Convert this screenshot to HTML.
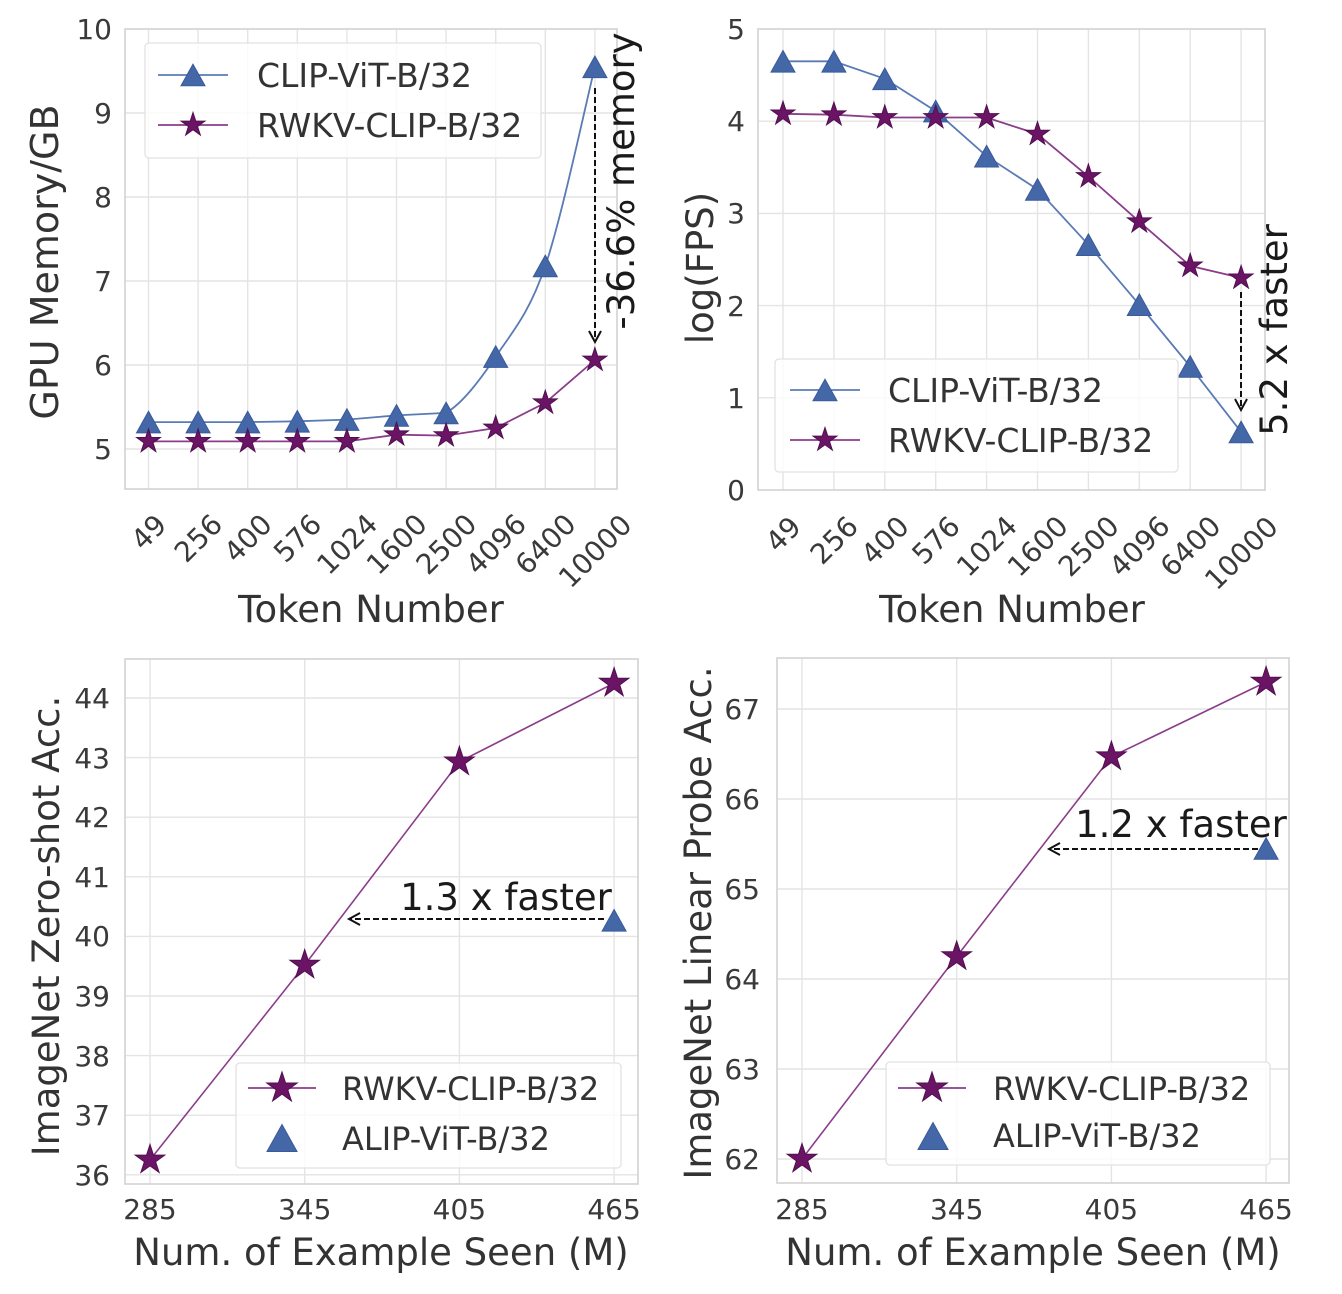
<!DOCTYPE html>
<html><head><meta charset="utf-8"><style>
html,body{margin:0;padding:0;background:#fff;}
svg{display:block;font-family:"DejaVu Sans","Liberation Sans",sans-serif;}
.g{stroke:#e4e4e4;stroke-width:1.4;fill:none}
.f{stroke:#d2d2d2;stroke-width:1.6;fill:none}
.t{font-size:28px;fill:#3a3a3a}
.lab{font-size:37px;fill:#333}
.leg{font-size:33px;fill:#333}
.legb{font-size:32px;fill:#333}
.ann{font-size:37px;fill:#1a1a1a}
.bl{stroke:#5a7bb5;stroke-width:1.8;fill:none}
.pl{stroke:#8b3d8b;stroke-width:1.8;fill:none}
.s{fill:#6b1466;stroke:#50104e}
.tri{fill:#4467a8;stroke:#3a5a9a}
.ar{stroke:#111;stroke-width:2;fill:none;stroke-dasharray:6 3}
.ah{stroke:#111;stroke-width:2;fill:none}
.lg{fill:#fff;fill-opacity:0.82;stroke:#e2e2e2;stroke-width:1.3}
</style></head><body>
<svg width="1342" height="1294" viewBox="0 0 1342 1294" xmlns="http://www.w3.org/2000/svg">
<defs>
<path id="st" vector-effect="non-scaling-stroke" stroke-width="1" d="M0,-1 L0.2245,-0.309 L0.9511,-0.309 L0.3633,0.118 L0.5878,0.809 L0,0.382 L-0.5878,0.809 L-0.3633,0.118 L-0.9511,-0.309 L-0.2245,-0.309 Z"/>
<path id="tr" vector-effect="non-scaling-stroke" stroke-width="1" d="M0,-0.9 L1,0.9 L-1,0.9 Z"/>
</defs>
<rect width="1342" height="1294" fill="#fff"/>

<!-- ============ TOP LEFT ============ -->
<g>
<path class="g" d="M125,113H617M125,197H617M125,281H617M125,365H617M125,449H617"/>
<path class="g" d="M148.5,29V489M198.1,29V489M247.7,29V489M297.3,29V489M346.9,29V489M396.5,29V489M446.1,29V489M495.7,29V489M545.3,29V489M594.9,29V489"/>
<rect class="f" x="125" y="29" width="492" height="460"/>
<g class="t" text-anchor="end">
<text x="112" y="39">10</text><text x="112" y="123">9</text><text x="112" y="207">8</text><text x="112" y="291">7</text><text x="112" y="375">6</text><text x="112" y="459">5</text>
</g>
<g class="t" text-anchor="middle">
<text transform="translate(148.5,532) rotate(-45)" y="10">49</text>
<text transform="translate(198.1,538) rotate(-45)" y="10">256</text>
<text transform="translate(247.7,538) rotate(-45)" y="10">400</text>
<text transform="translate(297.3,538) rotate(-45)" y="10">576</text>
<text transform="translate(346.9,544) rotate(-45)" y="10">1024</text>
<text transform="translate(396.5,544) rotate(-45)" y="10">1600</text>
<text transform="translate(446.1,544) rotate(-45)" y="10">2500</text>
<text transform="translate(495.7,544) rotate(-45)" y="10">4096</text>
<text transform="translate(545.3,544) rotate(-45)" y="10">6400</text>
<text transform="translate(594.9,551) rotate(-45)" y="10">10000</text>
</g>
<text class="lab" x="371" y="622" text-anchor="middle">Token Number</text>
<text class="lab" style="font-size:38px" transform="translate(58,262) rotate(-90)" text-anchor="middle">GPU Memory/GB</text>

<path class="bl" d="M148.5,422.1 L198.1,422.1 L247.7,422.1 L297.3,421.3 L346.9,419.6 L396.5,415.4 L446.1,412.9 C462.6,403.1 479.2,381.1 495.7,356.6 C512.2,332.1 528.8,314.2 545.3,265.9 C561.8,217.6 586.6,100 594.9,66.8"/>
<path class="pl" d="M148.5,441.4 L198.1,441.4 L247.7,441.4 L297.3,441.4 L346.9,441.4 L396.5,434.7 L446.1,435.6 L495.7,428 L545.3,402.8 L594.9,360"/>
<g class="tri">
<use href="#tr" transform="translate(148.5,422.1) scale(12)"/><use href="#tr" transform="translate(198.1,422.1) scale(12)"/><use href="#tr" transform="translate(247.7,422.1) scale(12)"/><use href="#tr" transform="translate(297.3,421.3) scale(12)"/><use href="#tr" transform="translate(346.9,419.6) scale(12)"/><use href="#tr" transform="translate(396.5,415.4) scale(12)"/><use href="#tr" transform="translate(446.1,412.9) scale(12)"/><use href="#tr" transform="translate(495.7,356.6) scale(12)"/><use href="#tr" transform="translate(545.3,265.9) scale(12)"/><use href="#tr" transform="translate(594.9,66.8) scale(12)"/>
</g>
<g class="s">
<use href="#st" transform="translate(148.5,441.4) scale(12.5)"/><use href="#st" transform="translate(198.1,441.4) scale(12.5)"/><use href="#st" transform="translate(247.7,441.4) scale(12.5)"/><use href="#st" transform="translate(297.3,441.4) scale(12.5)"/><use href="#st" transform="translate(346.9,441.4) scale(12.5)"/><use href="#st" transform="translate(396.5,434.7) scale(12.5)"/><use href="#st" transform="translate(446.1,435.6) scale(12.5)"/><use href="#st" transform="translate(495.7,428) scale(12.5)"/><use href="#st" transform="translate(545.3,402.8) scale(12.5)"/><use href="#st" transform="translate(594.9,360) scale(12.5)"/>
</g>
<path class="ar" d="M595,88V340"/>
<path class="ah" d="M589,331L595,342L601,331"/>
<text class="ann" transform="translate(634,181) rotate(-90)" text-anchor="middle">-36.6% memory</text>

<rect class="lg" x="145" y="43" width="396" height="115" rx="4"/>
<path class="bl" d="M158,75H228"/>
<use class="tri" href="#tr" transform="translate(193,75) scale(12)"/>
<text class="leg" x="257" y="87">CLIP-ViT-B/32</text>
<path class="pl" d="M158,125H228"/>
<use class="s" href="#st" transform="translate(193,125) scale(12.5)"/>
<text class="leg" x="257" y="137">RWKV-CLIP-B/32</text>
</g>

<!-- ============ TOP RIGHT ============ -->
<g>
<path class="g" d="M758,121.2H1265M758,213.4H1265M758,305.6H1265M758,397.8H1265"/>
<path class="g" d="M783,29V490M833.9,29V490M884.8,29V490M935.7,29V490M986.6,29V490M1037.5,29V490M1088.4,29V490M1139.3,29V490M1190.2,29V490M1241.1,29V490"/>
<rect class="f" x="758" y="29" width="507" height="461"/>
<g class="t" text-anchor="end">
<text x="745" y="39">5</text><text x="745" y="131">4</text><text x="745" y="223">3</text><text x="745" y="316">2</text><text x="745" y="408">1</text><text x="745" y="500">0</text>
</g>
<g class="t" text-anchor="middle">
<text transform="translate(783,534) rotate(-45)" y="10">49</text>
<text transform="translate(833.9,540) rotate(-45)" y="10">256</text>
<text transform="translate(884.8,540) rotate(-45)" y="10">400</text>
<text transform="translate(935.7,540) rotate(-45)" y="10">576</text>
<text transform="translate(986.6,546) rotate(-45)" y="10">1024</text>
<text transform="translate(1037.5,546) rotate(-45)" y="10">1600</text>
<text transform="translate(1088.4,546) rotate(-45)" y="10">2500</text>
<text transform="translate(1139.3,546) rotate(-45)" y="10">4096</text>
<text transform="translate(1190.2,546) rotate(-45)" y="10">6400</text>
<text transform="translate(1241.1,553) rotate(-45)" y="10">10000</text>
</g>
<text class="lab" x="1012" y="622" text-anchor="middle">Token Number</text>
<text class="lab" transform="translate(713,268) rotate(-90)" text-anchor="middle">log(FPS)</text>

<path class="bl" d="M783,61.3 L833.9,61.3 L884.8,78.8 L935.7,111.1 L986.6,156.2 L1037.5,189.4 L1088.4,244.7 L1139.3,304.7 L1190.2,366.5 L1241.1,431.9"/>
<path class="pl" d="M783,113.8 L833.9,114.7 L884.8,117.5 L935.7,117.5 L986.6,117.5 L1037.5,134.1 L1088.4,176.5 L1139.3,221.7 L1190.2,265.9 L1241.1,277.9"/>
<g class="tri">
<use href="#tr" transform="translate(783,61.3) scale(12)"/><use href="#tr" transform="translate(833.9,61.3) scale(12)"/><use href="#tr" transform="translate(884.8,78.8) scale(12)"/><use href="#tr" transform="translate(935.7,111.1) scale(12)"/><use href="#tr" transform="translate(986.6,156.2) scale(12)"/><use href="#tr" transform="translate(1037.5,189.4) scale(12)"/><use href="#tr" transform="translate(1088.4,244.7) scale(12)"/><use href="#tr" transform="translate(1139.3,304.7) scale(12)"/><use href="#tr" transform="translate(1190.2,366.5) scale(12)"/><use href="#tr" transform="translate(1241.1,431.9) scale(12)"/>
</g>
<g class="s">
<use href="#st" transform="translate(783,113.8) scale(12.5)"/><use href="#st" transform="translate(833.9,114.7) scale(12.5)"/><use href="#st" transform="translate(884.8,117.5) scale(12.5)"/><use href="#st" transform="translate(935.7,117.5) scale(12.5)"/><use href="#st" transform="translate(986.6,117.5) scale(12.5)"/><use href="#st" transform="translate(1037.5,134.1) scale(12.5)"/><use href="#st" transform="translate(1088.4,176.5) scale(12.5)"/><use href="#st" transform="translate(1139.3,221.7) scale(12.5)"/><use href="#st" transform="translate(1190.2,265.9) scale(12.5)"/><use href="#st" transform="translate(1241.1,277.9) scale(12.5)"/>
</g>
<path class="ar" d="M1241,292V408"/>
<path class="ah" d="M1235,399L1241,410L1247,399"/>
<text class="ann" transform="translate(1287,330) rotate(-90)" text-anchor="middle">5.2 x faster</text>

<rect class="lg" x="775" y="359" width="403" height="113" rx="4"/>
<path class="bl" d="M790,390H860"/>
<use class="tri" href="#tr" transform="translate(825,390) scale(12)"/>
<text class="leg" x="888" y="402">CLIP-ViT-B/32</text>
<path class="pl" d="M790,440H860"/>
<use class="s" href="#st" transform="translate(825,440) scale(12.5)"/>
<text class="leg" x="888" y="452">RWKV-CLIP-B/32</text>
</g>

<!-- ============ BOTTOM LEFT ============ -->
<g>
<path class="g" d="M125,698H638M125,757.6H638M125,817.2H638M125,876.8H638M125,936.4H638M125,996H638M125,1055.6H638M125,1115.2H638M125,1174.8H638"/>
<path class="g" d="M150,659V1184M304.7,659V1184M459.4,659V1184M614.1,659V1184"/>
<rect class="f" x="125" y="659" width="513" height="525"/>
<g class="t" text-anchor="end">
<text x="110" y="708">44</text><text x="110" y="768">43</text><text x="110" y="827">42</text><text x="110" y="887">41</text><text x="110" y="946">40</text><text x="110" y="1006">39</text><text x="110" y="1066">38</text><text x="110" y="1125">37</text><text x="110" y="1185">36</text>
</g>
<g class="t" text-anchor="middle">
<text x="150" y="1219">285</text><text x="304.7" y="1219">345</text><text x="459.4" y="1219">405</text><text x="614.1" y="1219">465</text>
</g>
<text class="lab" x="381" y="1265" text-anchor="middle">Num. of Example Seen (M)</text>
<text class="lab" transform="translate(59,926) rotate(-90)" text-anchor="middle">ImageNet Zero-shot Acc.</text>

<path class="pl" style="stroke-width:1.6" d="M150,1159.9 L304.7,965 L459.4,761.8 L614.1,683.1"/>
<g class="s">
<use href="#st" transform="translate(150,1159.9) scale(15.5)"/><use href="#st" transform="translate(304.7,965) scale(15.5)"/><use href="#st" transform="translate(459.4,761.8) scale(15.5)"/><use href="#st" transform="translate(614.1,683.1) scale(15.5)"/>
</g>
<use class="tri" href="#tr" transform="translate(614.1,920.3) scale(12)"/>
<path class="ar" d="M604,919H351"/>
<path class="ah" d="M360,913L349,919L360,925"/>
<text class="ann" x="506" y="910" text-anchor="middle">1.3 x faster</text>

<rect class="lg" x="236" y="1063" width="385" height="105" rx="4"/>
<path class="pl" d="M248,1088H316"/>
<use class="s" href="#st" transform="translate(282,1088) scale(16)"/>
<text class="legb" x="342" y="1100">RWKV-CLIP-B/32</text>
<use class="tri" href="#tr" transform="translate(282,1138) scale(15)"/>
<text class="legb" x="342" y="1150">ALIP-ViT-B/32</text>
</g>

<!-- ============ BOTTOM RIGHT ============ -->
<g>
<path class="g" d="M777,709H1289M777,799H1289M777,889H1289M777,979H1289M777,1069H1289M777,1159H1289"/>
<path class="g" d="M802,658V1183M956.7,658V1183M1111.4,658V1183M1266.1,658V1183"/>
<rect class="f" x="777" y="658" width="512" height="525"/>
<g class="t" text-anchor="end">
<text x="760" y="719">67</text><text x="760" y="809">66</text><text x="760" y="899">65</text><text x="760" y="989">64</text><text x="760" y="1079">63</text><text x="760" y="1169">62</text>
</g>
<g class="t" text-anchor="middle">
<text x="802" y="1219">285</text><text x="956.7" y="1219">345</text><text x="1111.4" y="1219">405</text><text x="1266.1" y="1219">465</text>
</g>
<text class="lab" x="1033" y="1265" text-anchor="middle">Num. of Example Seen (M)</text>
<text class="lab" transform="translate(711,923) rotate(-90)" text-anchor="middle">ImageNet Linear Probe Acc.</text>

<path class="pl" style="stroke-width:1.6" d="M802,1159 L956.7,956.5 L1111.4,756.7 L1266.1,682"/>
<g class="s">
<use href="#st" transform="translate(802,1159) scale(15.5)"/><use href="#st" transform="translate(956.7,956.5) scale(15.5)"/><use href="#st" transform="translate(1111.4,756.7) scale(15.5)"/><use href="#st" transform="translate(1266.1,682) scale(15.5)"/>
</g>
<use class="tri" href="#tr" transform="translate(1266.1,848.5) scale(12)"/>
<path class="ar" d="M1258,849H1051"/>
<path class="ah" d="M1060,843L1049,849L1060,855"/>
<text class="ann" x="1181" y="837" text-anchor="middle">1.2 x faster</text>

<rect class="lg" x="886" y="1062" width="384" height="103" rx="4"/>
<path class="pl" d="M898,1088H966"/>
<use class="s" href="#st" transform="translate(932,1088) scale(16)"/>
<text class="legb" x="993" y="1100">RWKV-CLIP-B/32</text>
<use class="tri" href="#tr" transform="translate(933,1136) scale(15)"/>
<text class="legb" x="993" y="1147">ALIP-ViT-B/32</text>
</g>
</svg>
</body></html>
